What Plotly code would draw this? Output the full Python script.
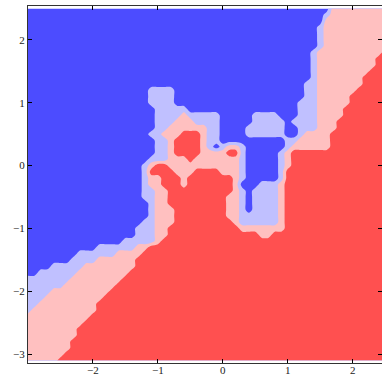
import sys
import numpy as np
import plotly.graph_objects as go

# Mesh on which the classifier output was read (x: -3.0..2.5, y: 2.5..-3.1, step 0.1)
x_grid = np.round(np.arange(56) * 0.1 - 3.0, 2)
y_grid_top_down = np.round(2.5 - np.arange(57) * 0.1, 2)

# Predicted class per mesh row (top row first), as run-lengths (class, count)
# 0 = dark blue, 1 = light blue, 2 = pink, 3 = red
class_runs = [
    [(0, 47), (2, 9)],
    [(0, 46), (1, 1), (2, 9)],
    [(0, 46), (2, 10)],
    [(0, 45), (1, 1), (2, 10)],
    [(0, 45), (1, 1), (2, 10)],
    [(0, 45), (1, 1), (2, 10)],
    [(0, 45), (1, 1), (2, 10)],
    [(0, 44), (1, 1), (2, 10), (3, 1)],
    [(0, 44), (1, 1), (2, 9), (3, 2)],
    [(0, 44), (1, 1), (2, 9), (3, 2)],
    [(0, 44), (1, 1), (2, 8), (3, 3)],
    [(0, 44), (1, 1), (2, 7), (3, 4)],
    [(0, 43), (1, 2), (2, 7), (3, 4)],
    [(0, 19), (1, 4), (0, 20), (1, 2), (2, 6), (3, 5)],
    [(0, 19), (1, 4), (0, 20), (1, 2), (2, 5), (3, 6)],
    [(0, 19), (1, 4), (0, 19), (1, 3), (2, 5), (3, 6)],
    [(0, 20), (1, 5), (0, 17), (1, 3), (2, 4), (3, 7)],
    [(0, 20), (1, 4), (2, 1), (1, 5), (0, 5), (1, 4), (0, 3), (1, 3), (2, 4), (3, 7)],
    [(0, 20), (1, 3), (2, 3), (1, 4), (0, 5), (1, 5), (0, 1), (1, 4), (2, 3), (3, 8)],
    [(0, 20), (1, 2), (2, 6), (1, 2), (0, 4), (1, 6), (0, 2), (1, 3), (2, 3), (3, 8)],
    [(0, 19), (1, 2), (2, 3), (3, 3), (2, 1), (1, 2), (0, 4), (1, 6), (0, 2), (1, 1), (2, 4), (3, 9)],
    [(0, 20), (1, 2), (2, 1), (3, 4), (2, 1), (1, 2), (0, 10), (1, 2), (2, 5), (3, 9)],
    [(0, 20), (1, 2), (2, 1), (3, 4), (2, 1), (1, 1), (0, 1), (1, 1), (2, 2), (1, 1), (0, 6), (1, 1), (2, 6), (3, 9)],
    [(0, 20), (1, 2), (2, 1), (3, 4), (2, 4), (3, 2), (1, 1), (0, 5), (1, 1), (2, 1), (3, 15)],
    [(0, 19), (1, 3), (2, 3), (3, 1), (2, 7), (1, 1), (0, 5), (1, 1), (2, 1), (3, 15)],
    [(0, 18), (1, 1), (2, 1), (3, 2), (2, 11), (1, 1), (0, 5), (1, 1), (2, 1), (3, 15)],
    [(0, 18), (1, 1), (3, 4), (2, 3), (3, 4), (2, 3), (1, 1), (0, 5), (1, 1), (3, 16)],
    [(0, 18), (1, 1), (2, 2), (3, 3), (2, 1), (3, 7), (2, 1), (1, 1), (0, 5), (1, 1), (3, 16)],
    [(0, 18), (1, 1), (2, 2), (3, 3), (2, 1), (3, 7), (2, 1), (0, 3), (1, 3), (2, 1), (3, 16)],
    [(0, 18), (1, 2), (2, 2), (3, 10), (2, 1), (1, 1), (0, 1), (1, 4), (2, 1), (3, 16)],
    [(0, 18), (1, 2), (2, 2), (3, 9), (2, 2), (1, 1), (0, 1), (1, 4), (2, 1), (3, 16)],
    [(0, 19), (1, 1), (2, 2), (3, 9), (2, 2), (1, 1), (0, 1), (1, 4), (2, 1), (3, 16)],
    [(0, 19), (1, 1), (2, 3), (3, 8), (2, 2), (1, 1), (0, 1), (1, 4), (2, 1), (3, 16)],
    [(0, 19), (1, 1), (2, 3), (3, 8), (2, 2), (1, 6), (2, 1), (3, 16)],
    [(0, 18), (1, 2), (2, 3), (3, 9), (2, 1), (1, 6), (2, 1), (3, 16)],
    [(0, 17), (1, 3), (2, 2), (3, 11), (2, 7), (3, 16)],
    [(0, 17), (1, 3), (2, 2), (3, 14), (2, 2), (3, 18)],
    [(0, 15), (1, 5), (2, 1), (3, 35)],
    [(0, 11), (1, 6), (2, 2), (3, 37)],
    [(0, 8), (1, 6), (2, 4), (3, 38)],
    [(0, 7), (1, 4), (2, 6), (3, 39)],
    [(0, 4), (1, 5), (2, 8), (3, 39)],
    [(0, 2), (1, 6), (2, 8), (3, 40)],
    [(1, 7), (2, 8), (3, 41)],
    [(1, 6), (2, 8), (3, 42)],
    [(1, 4), (2, 9), (3, 43)],
    [(1, 3), (2, 9), (3, 44)],
    [(1, 2), (2, 9), (3, 45)],
    [(1, 1), (2, 10), (3, 45)],
    [(2, 10), (3, 46)],
    [(2, 9), (3, 47)],
    [(2, 8), (3, 48)],
    [(2, 8), (3, 48)],
    [(2, 7), (3, 49)],
    [(2, 7), (3, 49)],
    [(2, 6), (3, 50)],
    [(2, 5), (3, 51)],
]

class_colors = ["#4c4cff", "#c0c0ff", "#ffc0c0", "#ff5050"]
x_ticks = [-2, -1, 0, 1, 2]
y_ticks = [-3, -2, -1, 0, 1, 2]

n_cols = len(x_grid)
rows = []
for k, runs in enumerate(class_runs):
    row = []
    for c, n in runs:
        row.extend([c] * n)
    if len(row) != n_cols:
        print(f"row {k} has {len(row)} cells", file=sys.stderr)
        row = (row + [row[-1]] * n_cols)[:n_cols]
    rows.append(row)

z = np.array(rows[::-1], dtype=float)
y_grid = y_grid_top_down[::-1]

cs = [
    [0.0, class_colors[0]], [1 / 6, class_colors[0]],
    [1 / 6, class_colors[1]], [0.5, class_colors[1]],
    [0.5, class_colors[2]], [5 / 6, class_colors[2]],
    [5 / 6, class_colors[3]], [1.0, class_colors[3]],
]

fig = go.Figure(
    go.Contour(
        x=x_grid, y=y_grid, z=z,
        zmin=0, zmax=3, autocontour=False,
        contours=dict(start=0.5, end=2.5, size=1, coloring="fill", showlines=False),
        colorscale=cs, showscale=False,
        line=dict(width=0, smoothing=0.8),
        hoverinfo="skip",
    )
)

axis_common = dict(
    ticks="inside", ticklen=4, tickwidth=1, tickcolor="black",
    showline=True, linecolor="#333", linewidth=1, mirror="allticks",
    showgrid=False, zeroline=False, automargin=False,
    tickfont=dict(family="Liberation Serif", size=11, color="#222"),
)
fig.update_xaxes(range=[-3.0, 2.45], tickvals=x_ticks, ticklabelstandoff=-3, **axis_common)
fig.update_yaxes(range=[-3.14, 2.54], tickvals=y_ticks, **axis_common)
fig.update_layout(
    width=382, height=376,
    margin=dict(l=28, r=0, t=6, b=13),
    paper_bgcolor="white", plot_bgcolor="white",
    showlegend=False,
)
fig.write_html(
    "out.html",
    config={"displayModeBar": False},
    post_script="document.body.style.margin='0px';document.body.style.overflow='hidden';",
)
